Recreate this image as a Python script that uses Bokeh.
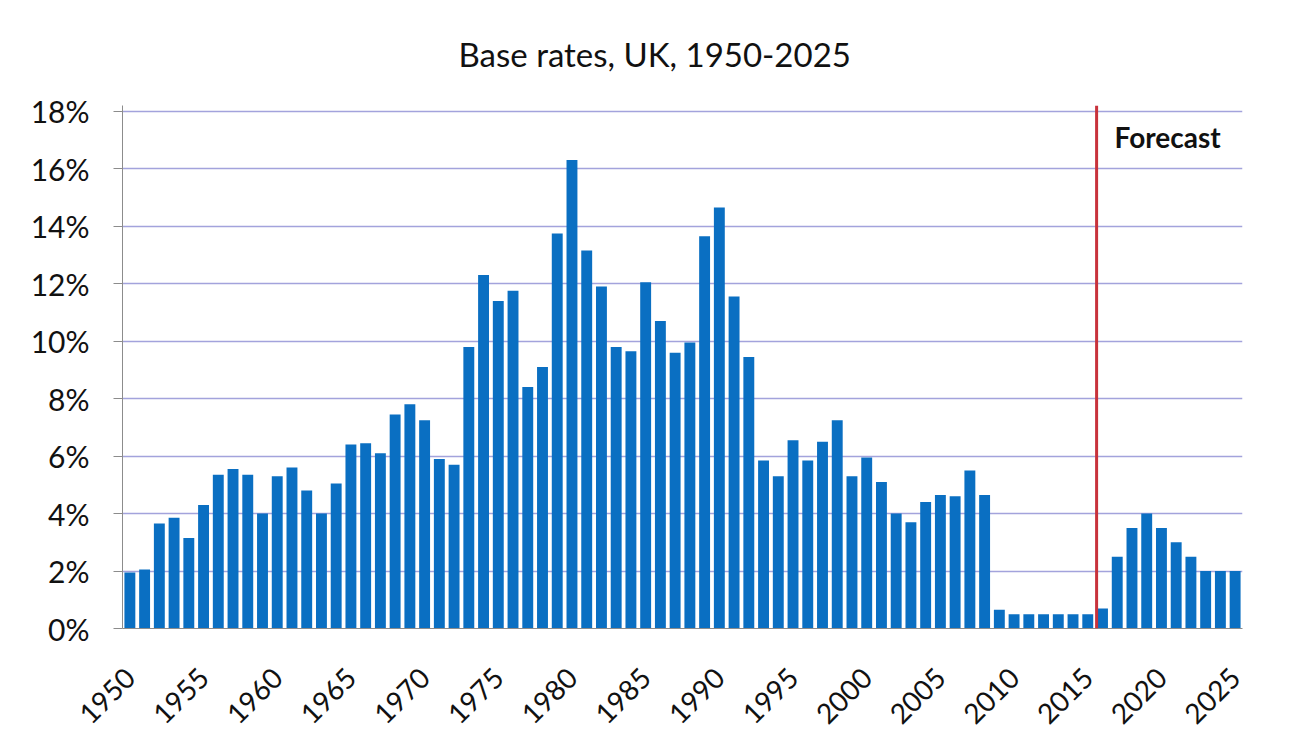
import math
from bokeh.plotting import figure
from bokeh.models import ColumnDataSource, FixedTicker, PrintfTickFormatter, Range1d, Span, Label
from bokeh.embed import file_html
from bokeh.resources import INLINE

years = list(range(1950, 2026))
rates = [
    1.95, 2.05, 3.65, 3.85, 3.15, 4.3, 5.35, 5.55, 5.35, 4.0,
    5.3, 5.6, 4.8, 4.0, 5.05, 6.4, 6.45, 6.1, 7.45, 7.8,
    7.25, 5.9, 5.7, 9.8, 12.3, 11.4, 11.75, 8.4, 9.1, 13.75,
    16.3, 13.15, 11.9, 9.8, 9.65, 12.05, 10.7, 9.6, 9.95, 13.65,
    14.65, 11.55, 9.45, 5.85, 5.3, 6.55, 5.85, 6.5, 7.25, 5.3,
    5.95, 5.1, 4.0, 3.7, 4.4, 4.65, 4.6, 5.5, 4.65, 0.65,
    0.5, 0.5, 0.5, 0.5, 0.5, 0.5, 0.7, 2.5, 3.5, 4.0,
    3.5, 3.0, 2.5, 2.0, 2.0, 2.0,
]
x_tick_years = list(range(1950, 2030, 5))
y_ticks = list(range(0, 20, 2))
forecast_start = 2015.6
title_text = "Base rates, UK, 1950-2025"
forecast_label = "Forecast"

FONT = "Lato"

source = ColumnDataSource(data=dict(year=years, rate=rates))

p = figure(
    width=1301, height=746,
    output_backend="svg", toolbar_location=None,
    x_range=Range1d(1949.5, 2025.5), y_range=Range1d(0, 18.2),
    min_border_left=122, min_border_right=59,
    min_border_top=105, min_border_bottom=118,
    title=title_text,
)
p.outline_line_color = None
p.background_fill_color = "white"
p.border_fill_color = "white"

p.title.text_font = FONT
p.title.text_font_size = "33px"
p.title.text_font_style = "normal"
p.title.align = "left"
p.title.text_color = "#111111"
p.title.offset = 336
p.title.standoff = 63

p.vbar(x="year", top="rate", width=0.74, source=source,
       fill_color="#0A6FC2", line_color=None)

# Axes
p.xaxis.ticker = FixedTicker(ticks=x_tick_years)
p.xaxis.major_label_orientation = math.pi / 4
p.xaxis.major_label_text_font = FONT
p.xaxis.major_label_text_font_size = "28px"
p.xaxis.major_label_text_color = "#111111"
p.xaxis.major_tick_line_color = None
p.xaxis.minor_tick_line_color = None
p.xaxis.axis_line_color = "#8C8C8C"
p.xaxis.major_label_standoff = 38

p.yaxis.ticker = FixedTicker(ticks=y_ticks)
p.yaxis.formatter = PrintfTickFormatter(format="%d%%")
p.yaxis.major_label_text_font = FONT
p.yaxis.major_label_text_font_size = "30px"
p.yaxis.major_label_text_color = "#111111"
p.yaxis.axis_line_color = "#8C8C8C"
p.yaxis.major_tick_line_color = "#8C8C8C"
p.yaxis.major_tick_out = 9
p.yaxis.major_tick_in = 0
p.yaxis.minor_tick_line_color = None
p.yaxis.major_label_standoff = 24

p.xgrid.grid_line_color = None
p.ygrid.ticker = FixedTicker(ticks=y_ticks[1:])
p.ygrid.grid_line_color = "#A3A3DC"
p.ygrid.grid_line_width = 1.5

# Forecast line
p.add_layout(Span(location=forecast_start, dimension="height",
                  line_color="#C8323C", line_width=3))

p.add_layout(Label(x=forecast_start, y=17.1, text=forecast_label,
                   x_offset=18, text_font=FONT, text_font_size="28px",
                   text_font_style="bold", text_color="#111111",
                   text_baseline="middle"))

open("out.html", "w").write(file_html(p, INLINE))
